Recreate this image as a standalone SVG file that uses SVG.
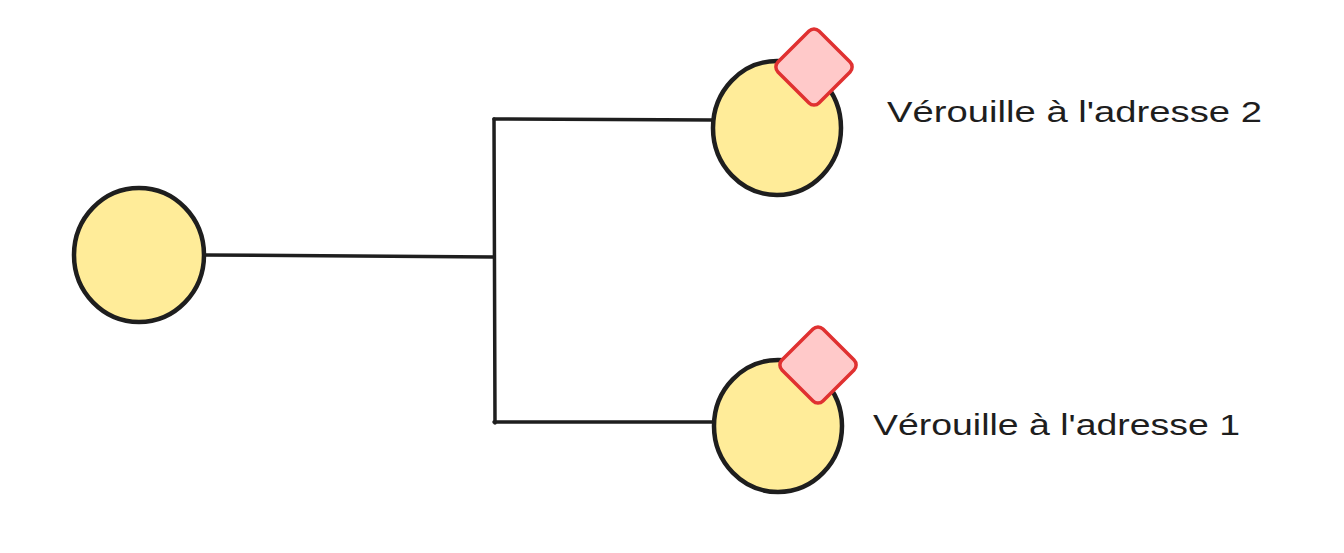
<svg xmlns="http://www.w3.org/2000/svg" width="1344" height="553" viewBox="0 0 1344 553">
<style>
.node{fill:#ffec99;stroke:#1e1e1e;stroke-width:4.5}
.lock{fill:#ffc9c9;stroke:#e03131;stroke-width:3.5;stroke-linejoin:round}
.conn{fill:none;stroke:#1e1e1e;stroke-width:3.5;stroke-linecap:round;stroke-linejoin:round}
.lbl{font-family:"Liberation Sans",Arial,sans-serif;font-size:30px;fill:#1e1e1e}
</style>
<rect width="1344" height="553" fill="#ffffff"/>
<g id="connectors">
<path class="conn" d="M204 255 L494 257"/>
<path class="conn" d="M494 119 L495 423"/>
<path class="conn" d="M494 119 L713 120"/>
<path class="conn" d="M494 422 L716 422"/>
</g>
<g id="node-root">
<ellipse class="node" cx="139" cy="255" rx="65" ry="67"/>
</g>
<g id="node-top">
<ellipse class="node" cx="777" cy="128" rx="64" ry="67"/>
<rect class="lock" x="-29" y="-29" width="58" height="58" rx="7" transform="translate(814 67) rotate(45)"/>
<text class="lbl" x="887" y="122" textLength="375" lengthAdjust="spacingAndGlyphs">Vérouille à l'adresse 2</text>
</g>
<g id="node-bottom">
<ellipse class="node" cx="778" cy="426" rx="64" ry="66"/>
<rect class="lock" x="-29" y="-29" width="58" height="58" rx="7" transform="translate(818 365) rotate(45)"/>
<text class="lbl" x="873" y="435" textLength="367" lengthAdjust="spacingAndGlyphs">Vérouille à l'adresse 1</text>
</g>
</svg>
